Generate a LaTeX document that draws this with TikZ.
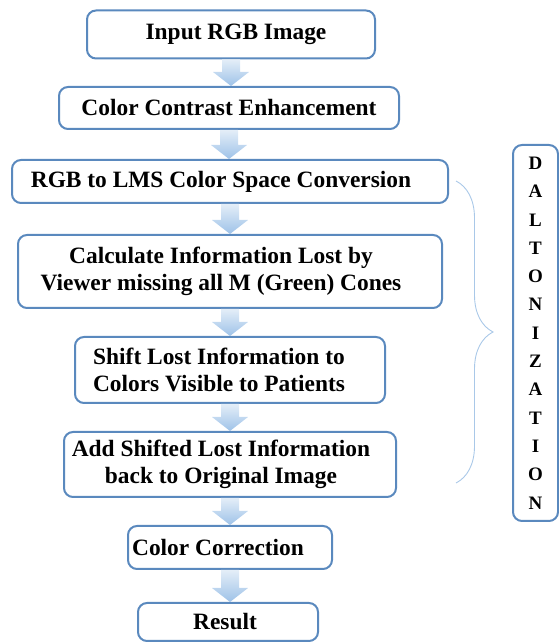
\documentclass[tikz,border=0pt]{standalone}
\usepackage{fontspec}
\setmainfont{Liberation Serif}[BoldFont={Liberation Serif Bold}]
\usetikzlibrary{decorations.pathreplacing,calc}
\definecolor{boxblue}{HTML}{5A89BE}
\definecolor{arrtop}{HTML}{E4EEF8}
\definecolor{arrbot}{HTML}{9EC2E8}
\definecolor{bracecol}{HTML}{A9C8E8}
\newcommand\flowarrow[2]{%
  \path[top color=arrtop,bottom color=arrbot] let \p1=(#1.south), \p2=(#2.north) in
    (\x1-9pt,\y1) -- (\x1+9pt,\y1) -- (\x1+9pt,\y2+14pt) -- (\x1+18pt,\y2+14pt)
    -- (\x1,\y2) -- (\x1-18pt,\y2+14pt) -- (\x1-9pt,\y2+14pt) -- cycle;}
\begin{document}
\begin{tikzpicture}[x=1pt,y=1pt,
  stepbox/.style={draw=boxblue,line width=2pt,rounded corners=9pt,fill=white,
    inner sep=0pt,minimum width=#1},
  txt/.style={font=\rmfamily\bfseries\fontsize{23.4}{27}\selectfont,align=center,inner sep=0pt},
  dtxt/.style={font=\rmfamily\bfseries\fontsize{19}{28.3}\selectfont,align=center,inner sep=0pt}]
\useasboundingbox (0,0) rectangle (559,642);
% boxes
\node[stepbox=288pt,minimum height=48pt] (b1) at (231,607.5) {};
\node[stepbox=340pt,minimum height=42pt] (b2) at (229,534) {};
\node[stepbox=436pt,minimum height=43pt] (b3) at (230,460.5) {};
\node[stepbox=424pt,minimum height=73pt] (b4) at (230,370.5) {};
\node[stepbox=310pt,minimum height=66pt] (b5) at (230,272) {};
\node[stepbox=332pt,minimum height=65pt] (b6) at (230,177.5) {};
\node[stepbox=204pt,minimum height=43pt] (b7) at (230,94.5) {};
\node[stepbox=180pt,minimum height=38pt] (b8) at (228,20) {};
\node[stepbox=45pt,minimum height=376pt] (dz) at (535.5,309) {};
% texts
\node[txt] (t1) at ([xshift=5pt]b1.center) {Input RGB Image};
\node[txt] (t2) at (b2.center) {Color Contrast Enhancement};
\node[txt] (t3) at ([xshift=-9pt]b3.center) {RGB to LMS Color Space Conversion};
\node[txt] (t4) at ([xshift=-9pt]b4.center) {Calculate Information Lost by\\Viewer missing all M (Green) Cones};
\node[txt] (t5) at ([xshift=-11pt]b5.center) {Shift Lost Information to\\Colors Visible to Patients};
\node[txt] (t6) at ([xshift=-9pt]b6.center) {Add Shifted Lost Information\\back to Original Image};
\node[txt] (t7) at ([xshift=-12pt]b7.center) {Color Correction};
\node[txt] (t8) at ([xshift=-3pt]b8.center) {Result};
\node[dtxt] (td) at (dz.center) {D\\A\\L\\T\\O\\N\\I\\Z\\A\\T\\I\\O\\N};
% arrows
\flowarrow{b1}{b2}
\flowarrow{b2}{b3}
\flowarrow{b3}{b4}
\flowarrow{b4}{b5}
\flowarrow{b5}{b6}
\flowarrow{b6}{b7}
\flowarrow{b7}{b8}
% brace
\coordinate (brtop) at (456,461);
\coordinate (brbot) at (456,159);
\draw[bracecol,line width=0.9pt,decorate,decoration={brace,amplitude=37pt}] (brtop) -- (brbot);
\end{tikzpicture}
\end{document}
